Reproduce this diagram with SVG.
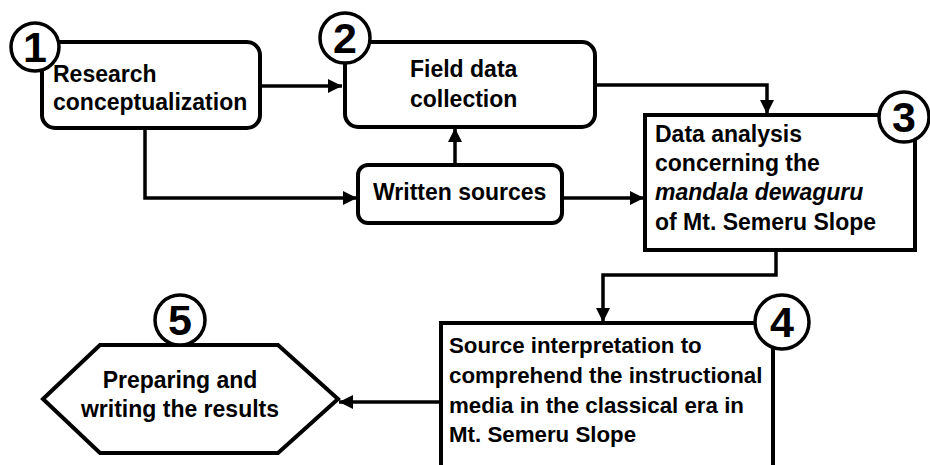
<svg xmlns="http://www.w3.org/2000/svg" width="930" height="465" viewBox="0 0 930 465">
<style>
.box{fill:#fff;stroke:#000;stroke-width:4}
.num{fill:#fff;stroke:#000;stroke-width:3.5}
.t{font-family:"Liberation Sans",Arial,sans-serif;font-weight:bold;font-size:23px;fill:#000}
.s{font-size:22.3px}
.n{font-family:"Liberation Sans",Arial,sans-serif;font-weight:bold;font-size:43px;fill:#000;text-anchor:middle}
.c{fill:none;stroke:#000;stroke-width:3.5}
</style>
<defs>
<marker id="ah" markerUnits="userSpaceOnUse" markerWidth="16" markerHeight="14" refX="14" refY="7" orient="auto">
<path d="M0,0 L14,7 L0,14 Z" fill="#000"/>
</marker>
</defs>
<rect width="930" height="465" fill="#fff"/>
<g id="connectors">
<path class="c" d="M260,86 H342" marker-end="url(#ah)"/>
<path class="c" d="M595,85 H767 V114" marker-end="url(#ah)"/>
<path class="c" d="M145,128 V198 H357" marker-end="url(#ah)"/>
<path class="c" d="M455,165 V128" marker-end="url(#ah)"/>
<path class="c" d="M562,198 H644" marker-end="url(#ah)"/>
<path class="c" d="M776,250 V275 H603 V322" marker-end="url(#ah)"/>
<path class="c" d="M441,402 H339" marker-end="url(#ah)"/>
</g>
<g id="node1">
<rect class="box" x="42" y="42" width="218" height="86" rx="13"/>
<circle class="num" cx="35" cy="47" r="24"/>
<text class="n" x="35" y="62">1</text>
<text class="t" x="53" y="82">Research</text>
<text class="t" x="53" y="110">conceptualization</text>
</g>
<g id="node2">
<rect class="box" x="345" y="42" width="250" height="85" rx="13"/>
<circle class="num" cx="345" cy="38" r="25"/>
<text class="n" x="345" y="53">2</text>
<text class="t" x="410" y="77">Field data</text>
<text class="t" x="410" y="107">collection</text>
</g>
<g id="written">
<rect class="box" x="358" y="165" width="204" height="58" rx="10"/>
<text class="t" x="373" y="200">Written sources</text>
</g>
<g id="node3">
<rect class="box" x="645" y="115" width="270" height="135"/>
<circle class="num" cx="904" cy="117" r="25"/>
<text class="n" x="904" y="132">3</text>
<text class="t" x="655" y="142">Data analysis</text>
<text class="t" x="655" y="171">concerning the</text>
<text class="t" x="655" y="200"><tspan font-style="italic">mandala dewaguru</tspan></text>
<text class="t" x="655" y="230">of Mt. Semeru Slope</text>
</g>
<g id="node4">
<path class="box" d="M441,472 V323 H773 V472"/>
<circle class="num" cx="782" cy="322" r="27"/>
<text class="n" x="782" y="337">4</text>
<text class="t s" x="449" y="353">Source interpretation to</text>
<text class="t s" x="449" y="383">comprehend the instructional</text>
<text class="t s" x="449" y="413">media in the classical era in</text>
<text class="t s" x="449" y="442">Mt. Semeru Slope</text>
</g>
<g id="node5">
<polygon class="box" points="43,399 100,345 278,345 338,399 278,453 100,453"/>
<circle class="num" cx="180" cy="320" r="25"/>
<text class="n" x="180" y="335">5</text>
<text class="t" x="180" y="388" text-anchor="middle">Preparing and</text>
<text class="t" x="180" y="417" text-anchor="middle">writing the results</text>
</g>
</svg>
